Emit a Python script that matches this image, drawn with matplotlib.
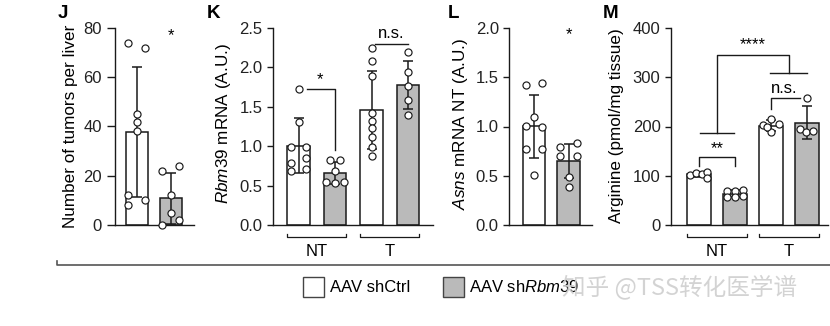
import numpy as np
import matplotlib
matplotlib.use('Agg')
import matplotlib.pyplot as plt
from matplotlib.lines import Line2D
from matplotlib.patches import Rectangle

plt.rcParams['font.family'] = ['Liberation Sans', 'DejaVu Sans']
plt.rcParams['mathtext.fontset'] = 'custom'
plt.rcParams['mathtext.rm'] = 'Liberation Sans'
plt.rcParams['mathtext.it'] = 'Liberation Sans:italic'

# ---- data ----
# J: tumours per liver
j_ctrl = [74, 72, 45, 42, 38, 12, 10, 8]
j_sh = [22, 24, 12, 5, 2, 0]
# K: Rbm39 mRNA, non-tumour (NT) and tumour (T)
k_nt_ctrl = [1.72, 1.31, 0.99, 0.99, 0.79, 0.85, 0.69, 0.71]
k_nt_sh = [0.83, 0.83, 0.69, 0.55, 0.53, 0.55]
k_t_ctrl = [2.25, 2.08, 1.89, 1.42, 1.32, 1.23, 1.12, 0.99, 0.87]
k_t_sh = [2.19, 1.94, 1.77, 1.59, 1.40]
# L: Asns mRNA NT
l_ctrl = [1.42, 1.44, 1.10, 1.01, 0.99, 0.77, 0.77, 0.51]
l_sh = [0.79, 0.83, 0.70, 0.70, 0.49, 0.39]
# M: arginine
m_nt_ctrl = [101, 106, 104, 108, 95]
m_nt_sh = [69, 69, 72, 57, 57, 59]
m_t_ctrl = [216, 203, 205, 188, 198]
m_t_sh = [258, 195, 188, 191]

group_names = ['NT', 'T']
legend_names = ['AAV shCtrl', r'AAV sh$\mathit{Rbm39}$']

# point jitter (in bar spacings)
j_ctrl_dx = np.array([-1, 1, 0, 0, 0, -1, 1, -1]) * 0.245
j_sh_dx = np.array([-1, 1, 0, 0, 1, -1]) * 0.245
k_nt_ctrl_dx = np.array([0, 0, -1, 1, -1, 1, -1, 1]) * 0.2
k_nt_sh_dx = np.array([-0.55, 0.55, 0, -1, 0, 1]) * 0.25
k_t_ctrl_dx = np.zeros(9)
k_t_sh_dx = np.zeros(5)
l_ctrl_dx = np.array([-1, 1, 0, -1, 1, -1, 1, 0]) * 0.24
l_sh_dx = np.array([-1, 1, -1, 1, 0, 0]) * 0.24
m_nt_ctrl_dx = np.array([-0.25, -0.09, 0.07, 0.23, 0.21])
m_nt_sh_dx = np.array([-1, 0, 1, -1, 0, 1]) * 0.23
m_t_ctrl_dx = np.array([0, -0.23, 0.23, 0, -0.1])
m_t_sh_dx = np.array([0, -0.2, -0.03, 0.16])

W, H = 830, 326
LC = '#1a1a1a'
GRAY = '#bababa'

fig = plt.figure(figsize=(W / 100, H / 100), dpi=100)


def add_ax(x0, x1, y0=28, y1=225):
    return fig.add_axes([x0 / W, 1 - y1 / H, (x1 - x0) / W, (y1 - y0) / H])


def fline(xs, ys, lw=1.0, color=LC):
    fig.add_artist(Line2D([x / W for x in xs], [1 - y / H for y in ys],
                          transform=fig.transFigure, color=color, lw=lw))


def style(ax, xlim, ylim, yticks, fmt, ticklen=4.3):
    ax.set_xlim(xlim)
    ax.set_ylim(ylim)
    for s in ['top', 'right']:
        ax.spines[s].set_visible(False)
    for s in ['left', 'bottom']:
        ax.spines[s].set_linewidth(1.0)
        ax.spines[s].set_color(LC)
    ax.set_xticks([])
    ax.set_yticks(yticks)
    ax.set_yticklabels([fmt.format(t) for t in yticks])
    ax.tick_params(axis='y', length=ticklen, width=1.0, color=LC,
                   labelsize=12, pad=3, labelcolor='#222222')
    ax.patch.set_visible(False)


def draw(ax, pos, vals, dx, color, width):
    m = np.mean(vals)
    sd = np.std(vals, ddof=1)
    ax.bar(pos, m, width, color=color, edgecolor=LC, linewidth=1.1, zorder=2)
    ax.errorbar(pos, m, yerr=sd, color=LC, lw=1.1, capsize=3.6,
                capthick=1.1, zorder=3)
    ax.scatter(pos + dx, vals, s=26, facecolor='white', edgecolor=LC,
               linewidths=0.85, zorder=4, clip_on=False)


def group_bracket(ax, x0, x1, label):
    tr = ax.get_xaxis_transform()
    ax.plot([x0, x0, x1, x1], [-0.046, -0.061, -0.061, -0.046], color=LC,
            lw=0.9, transform=tr, clip_on=False)
    ax.text((x0 + x1) / 2, -0.137, label, transform=tr, ha='center',
            va='center', fontsize=12)


# ---- J ----
axJ = add_ax(114.5, 194)
w = 0.645
draw(axJ, 0, j_ctrl, j_ctrl_dx, 'white', w)
draw(axJ, 1, j_sh, j_sh_dx, GRAY, w)
style(axJ, (-0.65, 1.68), (0, 80), [0, 20, 40, 60, 80], '{:.0f}', ticklen=6)
axJ.text(1, 77, '*', ha='center', va='center', fontsize=12)
fig.text(70 / W, 1 - 126 / H, 'Number of tumors per liver', rotation=90,
         ha='center', va='center', fontsize=12.3)

# ---- K ----
axK = add_ax(272.7, 433)
w = 0.63
draw(axK, 0, k_nt_ctrl, k_nt_ctrl_dx, 'white', w)
draw(axK, 1, k_nt_sh, k_nt_sh_dx, GRAY, w)
draw(axK, 2, k_t_ctrl, k_t_ctrl_dx, 'white', w)
draw(axK, 3, k_t_sh, k_t_sh_dx, GRAY, w)
style(axK, (-0.707, 3.685), (0, 2.5), [0, 0.5, 1.0, 1.5, 2.0, 2.5], '{:.1f}')
axK.plot([0.23, 1, 1], [1.73, 1.73, 0.95], color=LC, lw=1.0, clip_on=False)
axK.text(0.59, 1.84, '*', ha='center', va='center', fontsize=12)
axK.plot([2.1, 3.0], [2.30, 2.30], color=LC, lw=1.0, clip_on=False)
axK.text(2.55, 2.33, 'n.s.', ha='center', va='bottom', fontsize=12)
group_bracket(axK, 0 - w / 2, 1 + w / 2, group_names[0])
group_bracket(axK, 2 - w / 2, 3 + w / 2, group_names[1])
fig.text(223 / W, 1 - 124 / H, r'$\mathit{Rbm39}$ mRNA (A.U.)', rotation=90,
         ha='center', va='center', fontsize=12.3)

# ---- L ----
axL = add_ax(509, 592)
w = 0.64
draw(axL, 0, l_ctrl, l_ctrl_dx, 'white', w)
draw(axL, 1, l_sh, l_sh_dx, GRAY, w)
style(axL, (-0.725, 1.68), (0, 2.0), [0, 0.5, 1.0, 1.5, 2.0], '{:.1f}')
axL.text(1, 1.93, '*', ha='center', va='center', fontsize=12)
fig.text(460 / W, 1 - 124 / H, r'$\mathit{Asns}$ mRNA NT (A.U.)', rotation=90,
         ha='center', va='center', fontsize=12.3)

# ---- M ----
axM = add_ax(670.7, 828)
w = 0.667
draw(axM, 0, m_nt_ctrl, m_nt_ctrl_dx, 'white', w)
draw(axM, 1, m_nt_sh, m_nt_sh_dx, GRAY, w)
draw(axM, 2, m_t_ctrl, m_t_ctrl_dx, 'white', w)
draw(axM, 3, m_t_sh, m_t_sh_dx, GRAY, w)
style(axM, (-0.786, 3.58), (0, 400), [0, 100, 200, 300, 400], '{:.0f}')
axM.plot([0, 0, 1, 1], [119, 138, 138, 119], color=LC, lw=1.0, clip_on=False)
axM.text(0.5, 155, '**', ha='center', va='center', fontsize=12)
axM.plot([2, 2, 2.8], [236, 257, 257], color=LC, lw=1.0, clip_on=False)
axM.text(2.36, 262, 'n.s.', ha='center', va='bottom', fontsize=12)
axM.plot([0.03, 0.97], [186, 186], color=LC, lw=1.0, clip_on=False)
axM.plot([0.5, 0.5, 2.5, 2.5], [186, 345, 345, 308], color=LC, lw=1.0,
         clip_on=False)
axM.plot([1.97, 3.0], [308, 308], color=LC, lw=1.0, clip_on=False)
axM.text(1.5, 366, '****', ha='center', va='center', fontsize=12)
group_bracket(axM, 0 - w / 2, 1 + w / 2, group_names[0])
group_bracket(axM, 2 - w / 2, 3 + w / 2, group_names[1])
fig.text(617 / W, 1 - 126 / H, 'Arginine (pmol/mg tissue)', rotation=90,
         ha='center', va='center', fontsize=12.3)

# panel letters
for lab, x in zip(['J', 'K', 'L', 'M'], [58, 207, 448, 603]):
    fig.text(x / W, 1 - 5 / H, lab, ha='left', va='top', fontsize=13.5,
             fontweight='bold')

# long rule under the panels
fline([57, 57, 830], [261, 265, 265], lw=1.2, color='#555555')

# legend
fig.add_artist(Rectangle((303 / W, 1 - 297 / H), 21 / W, 20 / H,
                         transform=fig.transFigure, facecolor='white',
                         edgecolor='#444444', lw=1.0))
fig.add_artist(Rectangle((443 / W, 1 - 297 / H), 21 / W, 20 / H,
                         transform=fig.transFigure, facecolor=GRAY,
                         edgecolor='#444444', lw=1.0))
fig.text(330 / W, 1 - 287 / H, legend_names[0], ha='left', va='center',
         fontsize=12)
fig.text(469 / W, 1 - 287 / H, legend_names[1], ha='left', va='center',
         fontsize=12)

# watermark (sits over the end of the second legend entry, as in the source)
fig.text(562 / W, 1 - 287 / H, '知乎 @TSS转化医学谱', ha='left', va='center',
         fontsize=17, color='#cfcfcf', alpha=0.9,
         family=['Noto Sans CJK SC', 'DejaVu Sans'])

fig.savefig('out.png', dpi=100)
